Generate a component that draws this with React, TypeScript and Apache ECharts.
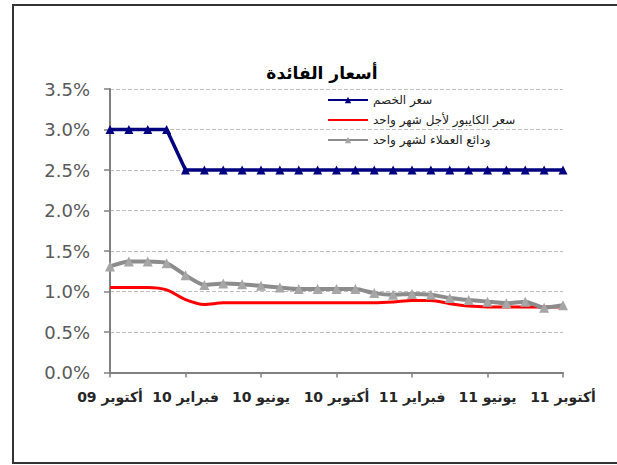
import React, { useEffect, useRef } from 'react';
import * as echarts from 'echarts';

const titleText = 'أسعار الفائدة';

const categories = [
  'أكتوبر 09', 'نوفمبر 09', 'ديسمبر 09', 'يناير 10', 'فبراير 10', 'مارس 10', 'أبريل 10', 'مايو 10', 'يونيو 10',
  'يوليو 10', 'أغسطس 10', 'سبتمبر 10', 'أكتوبر 10', 'نوفمبر 10', 'ديسمبر 10', 'يناير 11', 'فبراير 11',
  'مارس 11', 'أبريل 11', 'مايو 11', 'يونيو 11', 'يوليو 11', 'أغسطس 11', 'سبتمبر 11', 'أكتوبر 11',
];

const seriesNames = ['سعر الخصم', 'سعر الكايبور لأجل شهر واحد', 'ودائع العملاء لشهر واحد'];

const discountRate = [
  3.0, 3.0, 3.0, 3.0, 2.5, 2.5, 2.5, 2.5, 2.5, 2.5, 2.5, 2.5, 2.5,
  2.5, 2.5, 2.5, 2.5, 2.5, 2.5, 2.5, 2.5, 2.5, 2.5, 2.5, 2.5,
];

const kiborRate = [
  1.05, 1.05, 1.05, 1.02, 0.9, 0.84, 0.86, 0.86, 0.86, 0.86, 0.86, 0.86, 0.86,
  0.86, 0.86, 0.87, 0.89, 0.89, 0.85, 0.82, 0.81, 0.81, 0.81, 0.81, 0.81,
];

const depositRate = [
  1.31, 1.37, 1.37, 1.35, 1.2, 1.08, 1.1, 1.09, 1.07, 1.05, 1.03, 1.03, 1.03,
  1.03, 0.98, 0.96, 0.97, 0.96, 0.92, 0.895, 0.875, 0.855, 0.875, 0.8, 0.83,
];

const yMin = 0;
const yMax = 3.5;
const yStep = 0.5;

export default function App() {
  const ref = useRef<HTMLDivElement>(null);

  useEffect(() => {
    if (!ref.current) return;
    const chart = echarts.init(ref.current, undefined, { renderer: 'svg' });
    chart.setOption({
      animation: false,
      backgroundColor: '#ffffff',
      title: {
        text: titleText,
        left: 317,
        top: 59,
        textAlign: 'center',
        textStyle: { fontFamily: 'DejaVu Sans', fontSize: 17, fontWeight: 'bold', color: '#000000' },
      },
      legend: {
        orient: 'vertical',
        left: 322,
        top: 89,
        itemWidth: 40,
        itemHeight: 8,
        itemGap: 8,
        data: [
          { name: seriesNames[0] },
          { name: seriesNames[1], itemStyle: { color: 'rgba(0,0,0,0)', borderWidth: 0 } },
          { name: seriesNames[2] },
        ],
        textStyle: { fontFamily: 'DejaVu Sans', fontSize: 12, color: '#222222' },
      },
      graphic: [
        {
          type: 'rect',
          shape: { x: 13, y: 5, width: 640, height: 458 },
          style: { fill: 'none', stroke: '#333333', lineWidth: 2 },
          silent: true,
        },
      ],
      grid: { left: 110, right: 54, top: 89, bottom: 92.5 },
      xAxis: {
        type: 'category',
        data: categories,
        boundaryGap: false,
        axisLine: { lineStyle: { color: '#808080', width: 2 } },
        axisTick: { show: true, interval: 3, length: 5, lineStyle: { color: '#808080', width: 1.5 } },
        axisLabel: {
          interval: 3,
          margin: 17,
          fontFamily: 'DejaVu Sans',
          fontSize: 14,
          fontWeight: 'bold',
          color: '#262626',
        },
        splitLine: { show: false },
      },
      yAxis: {
        type: 'value',
        min: yMin,
        max: yMax,
        interval: yStep,
        axisLine: { show: true, lineStyle: { color: '#808080', width: 2 } },
        axisTick: { show: true, length: 6, lineStyle: { color: '#808080', width: 1.5 } },
        axisLabel: {
          margin: 20,
          fontFamily: 'DejaVu Sans',
          fontSize: 18,
          color: '#595959',
          formatter: (v: number) => v.toFixed(1) + '%',
        },
        splitLine: { show: true, lineStyle: { type: 'dashed', color: '#bfbfbf', width: 1 } },
      },
      series: [
        {
          name: seriesNames[1],
          type: 'line',
          data: kiborRate,
          smooth: 0.3,
          symbol: 'none',
          lineStyle: { color: '#ff0000', width: 3 },
          itemStyle: { color: '#ff0000' },
          z: 2,
        },
        {
          name: seriesNames[2],
          type: 'line',
          data: depositRate,
          smooth: 0.2,
          symbol: 'triangle',
          symbolSize: 10,
          lineStyle: { color: '#8c8c8c', width: 4 },
          itemStyle: { color: '#a6a6a6' },
          z: 3,
        },
        {
          name: seriesNames[0],
          type: 'line',
          data: discountRate,
          symbol: 'triangle',
          symbolSize: 9,
          lineStyle: { color: '#000080', width: 3.5 },
          itemStyle: { color: '#000080' },
          z: 4,
        },
      ],
    });
    return () => chart.dispose();
  }, []);

  return (
    <div
      ref={ref}
      style={{ position: 'fixed', left: 0, top: 0, width: 617, height: 465 }}
    />
  );
}
